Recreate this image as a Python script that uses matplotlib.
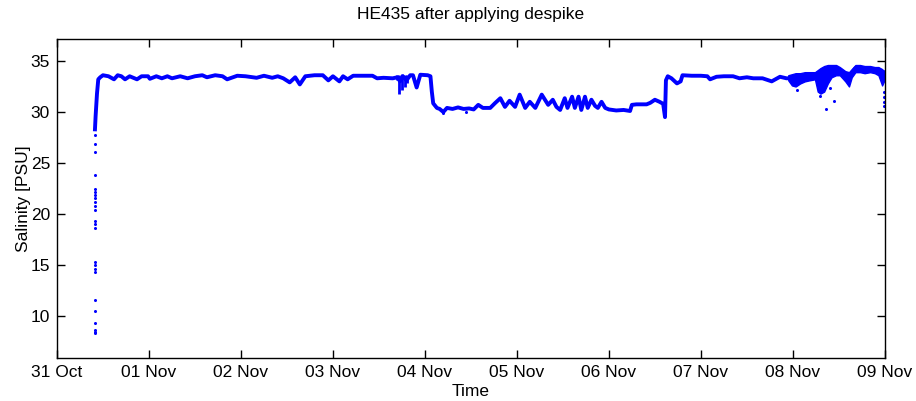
import matplotlib
matplotlib.use('Agg')
import numpy as np
import matplotlib.pyplot as plt

plt.rcParams['font.family'] = ['Liberation Sans', 'DejaVu Sans']

# Час у добах від 31 Oct 00:00, солоність у PSU.
t_main = [0.413, 0.420, 0.435, 0.449, 0.47, 0.50, 0.56, 0.62, 0.66, 0.70,
          0.74, 0.79, 0.87, 0.92, 0.99, 1.01, 1.08, 1.14, 1.20, 1.25,
          1.34, 1.42, 1.50, 1.58, 1.63, 1.72, 1.80, 1.85, 1.96, 2.05,
          2.17, 2.25, 2.34, 2.40, 2.46, 2.53, 2.59, 2.64, 2.70, 2.80,
          2.89, 2.95, 3.00, 3.07, 3.11, 3.16, 3.22, 3.32, 3.43, 3.48,
          3.55, 3.65, 3.70, 3.73, 3.76, 3.80, 3.84, 3.87, 3.91, 3.95,
          4.03, 4.06, 4.075, 4.09, 4.13,
          4.16, 4.20, 4.24, 4.30, 4.36, 4.42, 4.48, 4.53, 4.58, 4.63,
          4.71, 4.76, 4.82, 4.87, 4.92, 4.98, 5.03, 5.09, 5.14, 5.20,
          5.27, 5.34, 5.39, 5.43, 5.47, 5.52, 5.55, 5.60, 5.63, 5.67,
          5.70, 5.74, 5.77, 5.81, 5.85, 5.88, 5.92, 5.96, 6.00, 6.08,
          6.16, 6.23, 6.25, 6.30, 6.41, 6.45, 6.50, 6.55, 6.59, 6.61,
          6.62, 6.64,
          6.68, 6.74, 6.78, 6.80, 6.90, 7.00, 7.07, 7.10, 7.17, 7.25,
          7.35, 7.42, 7.50, 7.57, 7.67, 7.77, 7.83, 7.86, 7.93, 7.97,
          8.05, 8.15, 8.25, 8.32, 8.40, 8.48, 8.55, 8.62, 8.68, 8.78,
          8.88, 8.95, 8.99]
s_main = [28.3, 29.6, 31.8, 33.2, 33.4, 33.6, 33.5, 33.2, 33.6, 33.5,
          33.2, 33.5, 33.2, 33.5, 33.5, 33.25, 33.5, 33.3, 33.5, 33.3,
          33.5, 33.3, 33.5, 33.6, 33.4, 33.6, 33.5, 33.2, 33.55, 33.5,
          33.35, 33.55, 33.35, 33.5, 33.3, 32.9, 33.4, 32.7, 33.5, 33.6,
          33.6, 33.1, 33.5, 33.0, 33.5, 33.2, 33.55, 33.55, 33.55, 33.3,
          33.35, 33.3, 33.4, 33.0, 33.5, 33.1, 33.6, 33.6, 32.4, 33.65,
          33.6, 33.5, 32.0, 30.85, 30.4,
          30.3, 30.0, 30.4, 30.3, 30.45, 30.3, 30.35, 30.25, 30.7, 30.4,
          30.4, 30.85, 31.35, 30.5, 31.1, 30.5, 31.7, 30.4, 31.0, 30.4,
          31.7, 30.7, 31.2, 30.5, 30.2, 31.35, 30.4, 31.5, 30.4, 31.5,
          30.2, 31.5, 30.4, 31.2, 30.6, 30.4, 31.0, 30.4, 30.25, 30.15,
          30.2, 30.1, 30.7, 30.75, 30.75, 30.9, 31.2, 31.0, 30.8, 29.5,
          33.1, 33.5,
          33.3, 32.8, 33.0, 33.6, 33.55, 33.55, 33.5, 33.2, 33.45, 33.5,
          33.5, 33.3, 33.4, 33.3, 33.3, 33.0, 33.3, 33.45, 33.3, 33.3,
          33.4, 33.5, 33.6, 34.1, 34.3, 34.2, 33.8, 33.6, 34.3, 34.2,
          34.2, 34.0, 33.9]

# Короткі викиди вниз перед 04 Nov.
t_spikes = [3.70, 3.72, 3.75, 3.78, 3.80]
s_spikes_lo = [33.1, 31.8, 32.2, 32.4, 32.8]
s_spikes_hi = [33.6, 33.6, 33.7, 33.6, 33.6]

# Розкид точок (хмара) наприкінці запису.
t_cloud = [7.95, 7.99, 8.03, 8.08, 8.13, 8.18, 8.24, 8.27, 8.30, 8.34,
           8.38, 8.42, 8.47, 8.51, 8.57, 8.61, 8.64, 8.68, 8.73, 8.78,
           8.84, 8.89, 8.93, 8.97, 8.99]
s_cloud_lo = [33.1, 32.6, 32.5, 32.8, 33.0, 33.1, 33.2, 32.0, 31.8, 32.0,
              32.8, 33.4, 33.6, 33.6, 33.0, 32.5, 33.4, 33.9, 33.9, 33.8,
              33.9, 33.8, 33.6, 32.6, 33.0]
s_cloud_hi = [33.6, 33.7, 33.8, 33.8, 33.9, 33.9, 33.9, 34.1, 34.3, 34.5,
              34.6, 34.6, 34.6, 34.4, 34.0, 33.9, 34.2, 34.6, 34.6, 34.5,
              34.5, 34.4, 34.4, 34.2, 34.0]

# Окремі точки: викид на початку та поодинокі значення.
t_dots = [0.413, 0.413, 0.413, 0.414, 0.413, 0.413, 0.413, 0.413, 0.413,
          0.413, 0.413, 0.413, 0.413, 0.413, 0.413, 0.413, 0.413, 0.413,
          0.413, 0.413, 0.413, 0.413, 0.413, 0.413,
          4.20, 4.45, 8.04, 8.30, 8.36, 8.40, 8.45, 8.99, 8.99, 8.99, 8.99]
s_dots = [27.7, 26.9, 26.1, 23.8, 22.5, 22.2, 21.9, 21.6, 21.2, 20.8,
          20.4, 19.3, 19.0, 18.6, 15.3, 15.0, 14.6, 14.3, 11.6, 10.5,
          9.3, 8.7, 8.5, 8.4,
          29.9, 30.0, 32.2, 31.6, 30.25, 32.35, 31.1, 32.0, 31.5, 31.0, 30.6]

x_ticks = [0, 1, 2, 3, 4, 5, 6, 7, 8, 9]
x_labels = ['31 Oct', '01 Nov', '02 Nov', '03 Nov', '04 Nov', '05 Nov',
            '06 Nov', '07 Nov', '08 Nov', '09 Nov']
y_ticks = [10, 15, 20, 25, 30, 35]

blue = '#0000ff'

fig = plt.figure(figsize=(9.16, 4.01), dpi=100)
ax = fig.add_axes([0.0622, 0.107, 0.9038, 0.7945])

ax.fill_between(t_cloud, s_cloud_lo, s_cloud_hi, color=blue, lw=1.0,
                edgecolor=blue)
ax.vlines(t_spikes, s_spikes_lo, s_spikes_hi, color=blue, lw=2.0)
ax.plot(t_main, s_main, '-', color=blue, lw=2.8, solid_joinstyle='round')
ax.plot(t_dots, s_dots, 'o', color=blue, ms=2.2, mew=0)

ax.set_xlim(0, 9)
ax.set_ylim(5.9, 37.1)
ax.set_xticks(x_ticks)
ax.set_xticklabels(x_labels)
ax.set_yticks(y_ticks)

ax.tick_params(direction='in', length=6, width=1.0, top=True, right=True,
               labelsize=12.5, pad=5, colors='black')
for sp in ax.spines.values():
    sp.set_linewidth(1.0)

ax.set_title('HE435 after applying despike', fontsize=12.5, pad=15)
ax.set_xlabel('Time', fontsize=12.5, labelpad=3)
ax.set_ylabel('Salinity [PSU]', fontsize=12.5, labelpad=0)

fig.savefig('out.png', dpi=100)
